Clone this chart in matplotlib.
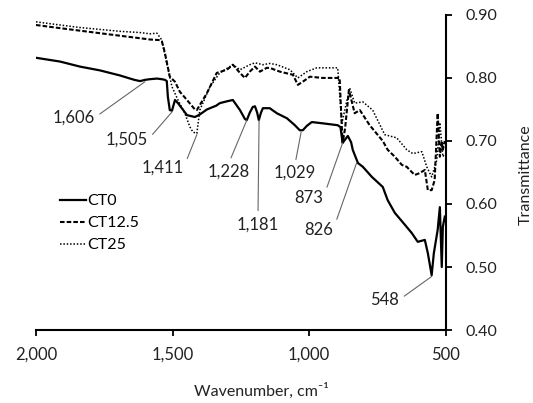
import matplotlib
matplotlib.use('Agg')
import matplotlib.pyplot as plt
from matplotlib.ticker import FuncFormatter

plt.rcParams['font.family'] = ['Lato', 'DejaVu Sans']
plt.rcParams['font.size'] = 11

# CT0 spectrum (wavenumber, transmittance)
ct0_wn = [2000, 1912, 1839, 1766, 1693, 1640, 1619, 1600, 1583, 1557, 1539, 1528,
          1521, 1517, 1510, 1502, 1491, 1480, 1466, 1447, 1418, 1400, 1374, 1340,
          1327, 1300, 1279, 1253, 1235, 1228, 1217, 1206, 1198, 1190, 1184, 1176,
          1169, 1144, 1118, 1081, 1052, 1034, 1023, 1008, 990, 950, 895, 885, 877,
          858, 846, 840, 821, 803, 770, 730, 712, 686, 649, 624, 602, 576, 565,
          551, 543, 529, 521, 514, 510, 503]
ct0_t = [0.832, 0.826, 0.818, 0.812, 0.804, 0.797, 0.795, 0.797, 0.798, 0.799,
         0.798, 0.797, 0.795, 0.770, 0.749, 0.748, 0.765, 0.760, 0.752, 0.741,
         0.738, 0.742, 0.750, 0.756, 0.760, 0.763, 0.765, 0.749, 0.735, 0.733,
         0.745, 0.754, 0.755, 0.745, 0.733, 0.745, 0.752, 0.752, 0.744, 0.736,
         0.725, 0.717, 0.717, 0.724, 0.730, 0.728, 0.725, 0.722, 0.697, 0.708,
         0.698, 0.686, 0.665, 0.659, 0.643, 0.627, 0.606, 0.586, 0.567, 0.554,
         0.540, 0.543, 0.522, 0.487, 0.522, 0.559, 0.595, 0.500, 0.564, 0.580]

# CT12.5
ct12_wn = [2000, 1912, 1839, 1766, 1693, 1619, 1583, 1546, 1539, 1528, 1510, 1491,
           1473, 1447, 1418, 1411, 1374, 1338, 1301, 1279, 1253, 1235, 1217, 1198,
           1180, 1155, 1144, 1107, 1059, 1041, 1023, 997, 950, 895, 888, 880, 877,
           868, 854, 833, 814, 778, 730, 712, 686, 660, 642, 638, 613, 595, 576,
           565, 551, 540, 529, 521, 514, 510, 503]
ct12_t = [0.884, 0.879, 0.875, 0.871, 0.867, 0.863, 0.861, 0.860, 0.858, 0.840,
          0.802, 0.794, 0.778, 0.765, 0.750, 0.749, 0.776, 0.808, 0.813, 0.821,
          0.808, 0.800, 0.810, 0.818, 0.810, 0.816, 0.816, 0.810, 0.805, 0.789,
          0.794, 0.802, 0.800, 0.800, 0.800, 0.722, 0.697, 0.720, 0.781, 0.744,
          0.749, 0.725, 0.700, 0.686, 0.675, 0.662, 0.659, 0.657, 0.646, 0.649,
          0.654, 0.622, 0.622, 0.638, 0.744, 0.675, 0.700, 0.686, 0.700]

# CT25
ct25_wn = [2000, 1912, 1839, 1766, 1693, 1619, 1583, 1557, 1539, 1521, 1502, 1480,
           1455, 1436, 1425, 1411, 1400, 1363, 1327, 1279, 1253, 1217, 1198, 1169,
           1144, 1118, 1070, 1041, 1008, 972, 895, 880, 851, 833, 803, 767, 723,
           679, 642, 620, 587, 569, 551, 532, 521, 510, 503]
ct25_t = [0.889, 0.884, 0.880, 0.877, 0.874, 0.872, 0.870, 0.871, 0.860, 0.823,
          0.786, 0.765, 0.744, 0.722, 0.714, 0.712, 0.749, 0.786, 0.808, 0.821,
          0.813, 0.821, 0.824, 0.821, 0.823, 0.821, 0.813, 0.800, 0.810, 0.816,
          0.816, 0.728, 0.784, 0.760, 0.762, 0.749, 0.710, 0.705, 0.686, 0.680,
          0.683, 0.659, 0.643, 0.670, 0.729, 0.675, 0.680]

# peak labels: text, peak (wn, T), label anchor (wn, T), alignment
peak_labels = ['1,606', '1,505', '1,411', '1,228', '1,181', '1,029', '873', '826', '548']
peak_xy = [(1601, 0.794), (1502, 0.746), (1411, 0.710), (1228, 0.733), (1183, 0.733),
           (1029, 0.714), (877, 0.697), (826, 0.665), (551, 0.485)]
label_xy = [(1785, 0.737), (1590, 0.702), (1460, 0.657), (1294, 0.652), (1187, 0.568),
            (1052, 0.649), (948, 0.610), (912, 0.559), (670, 0.448)]
label_ha = ['right', 'right', 'right', 'center', 'center', 'center', 'right', 'right', 'right']


def main():
    fig = plt.figure(figsize=(5.33, 4.03), dpi=100)
    ax = fig.add_axes([0.0675, 0.181, 0.7685, 0.782])

    ax.plot(ct0_wn, ct0_t, color='black', lw=1.6, label='CT0')
    ax.plot(ct12_wn, ct12_t, color='black', lw=1.5, dashes=(2.2, 1.0), label='CT12.5')
    ax.plot(ct25_wn, ct25_t, color='black', lw=1.1, dashes=(1.0, 1.2), label='CT25')

    for txt, xy, xyt, ha in zip(peak_labels, peak_xy, label_xy, label_ha):
        rel = (1.0, 0.5) if ha == 'right' else (0.5, 1.0)
        ax.annotate(txt, xy=xy, xytext=xyt, ha=ha, va='center', fontsize=12,
                    color='#222222',
                    arrowprops=dict(arrowstyle='-', color='#666666', lw=0.8,
                                    shrinkA=2, shrinkB=0, relpos=rel))

    ax.set_xlim(2000, 500)
    ax.set_ylim(0.40, 0.90)
    ax.set_xticks([2000, 1500, 1000, 500])
    ax.set_yticks([0.40, 0.50, 0.60, 0.70, 0.80, 0.90])
    ax.xaxis.set_major_formatter(FuncFormatter(lambda v, p: '{:,.0f}'.format(v)))
    ax.yaxis.set_major_formatter(FuncFormatter(lambda v, p: '%.2f' % v))

    ax.yaxis.tick_right()
    for s in ['top', 'left']:
        ax.spines[s].set_visible(False)
    for s in ['bottom', 'right']:
        ax.spines[s].set_linewidth(1.5)
    ax.tick_params(axis='x', direction='out', length=4, width=1.3, pad=8,
                   labelsize=12, colors='#222222')
    ax.tick_params(axis='y', direction='out', length=4, width=1.3, pad=10,
                   labelsize=11.5, colors='#222222')
    ax.tick_params(axis='both', color='black')

    fig.text(261 / 533, 1 - 391 / 403, 'Wavenumber, cm\u207b\u00b9', ha='center',
             va='center', fontsize=11.5, color='#222222')
    fig.text(526 / 533, 1 - 175 / 403, 'Transmittance', rotation=90,
             ha='center', va='center', fontsize=11.5, color='#222222')

    ax.legend(loc='upper left', bbox_to_anchor=(0.059, 0.432), frameon=False,
              handlelength=1.6, handletextpad=0.1, labelspacing=0.5,
              borderpad=0, borderaxespad=0, fontsize=11.5)

    fig.savefig('out.png', dpi=100)


if __name__ == '__main__':
    main()
